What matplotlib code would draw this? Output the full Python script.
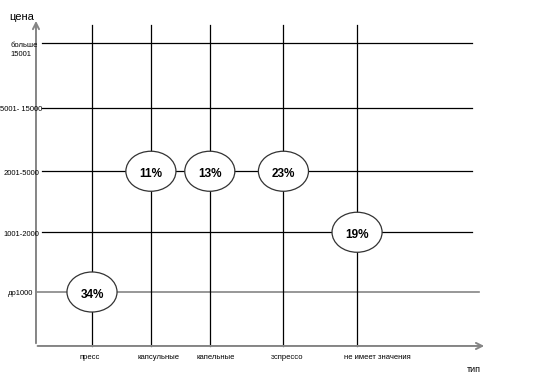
import matplotlib
matplotlib.use('Agg')
import matplotlib.pyplot as plt
from matplotlib.patches import Ellipse

plt.rcParams['font.family'] = ['Liberation Sans', 'DejaVu Sans']

# data
types = ['пресс', 'капсульные', 'капельные', 'эспрессо', 'не имеет значения']
prices = ['до1000', '1001-2000', '2001-5000', '5001- 15000', 'больше\n15001']
share_price = ['до1000', '2001-5000', '2001-5000', '2001-5000', '1001-2000']
share_pct = [34, 11, 13, 23, 19]

# layout: hand-drawn grid spacing
col_pos = [0, 1, 2, 3.25, 4.5]
row_pos = [0, 0.96, 1.94, 2.96, 4]

fig = plt.figure(figsize=(5.36, 3.88), dpi=100)
ax = fig.add_axes([0, 0, 1, 1])
ax.set_xlim(-1.562, 7.538)
ax.set_ylim(-1.542, 4.691)
ax.axis('off')

x0, y0 = -0.951, -0.867   # origin of the drawn axes
gray = '#858585'

# axes with arrows
ax.annotate('', xy=(x0, 4.40), xytext=(x0, y0),
            arrowprops=dict(arrowstyle='->', color=gray, lw=1.4, mutation_scale=11))
ax.annotate('', xy=(6.706, y0), xytext=(x0 - 0.02, y0),
            arrowprops=dict(arrowstyle='->', color=gray, lw=1.4, mutation_scale=11))
ax.text(-1.19, 4.42, 'цена', ha='center', va='center', fontsize=8)
ax.text(6.485, -1.237, 'тип', ha='center', va='center', fontsize=6.5)

# horizontal lines for price ranges
for i, p in enumerate(prices):
    yp = row_pos[i]
    if i == 0:
        ax.plot([x0, 6.57], [yp, yp], color=gray, lw=1.2, zorder=1)
    else:
        ax.plot([-0.85, 6.45], [yp, yp], color='black', lw=0.9, zorder=1)
    if '\n' in p:
        ax.text(-1.392, yp + 0.02, p, ha='left', va='top', fontsize=5.5, linespacing=1.45)
    else:
        ax.text(-1.205, yp - 0.03, p, ha='center', va='center', fontsize=5.5)

# vertical lines for types
for j, t in enumerate(types):
    xp = col_pos[j]
    ax.plot([xp, xp], [y0, 4.289], color='black', lw=0.9, zorder=1)
    ax.text(xp - 0.22, -1.06, t, ha='left', va='center', fontsize=5.5)

# ellipses with shares
for j, (p, v) in enumerate(zip(share_price, share_pct)):
    xp = col_pos[j]
    yp = row_pos[prices.index(p)]
    ax.add_patch(Ellipse((xp, yp), 0.85, 0.643, facecolor='white',
                         edgecolor='#333333', lw=0.9, zorder=3))
    ax.text(xp, yp - 0.05, f'{v}%', ha='center', va='center', fontsize=8.5,
            fontweight='bold', zorder=4)

fig.savefig('out.png', dpi=100)
